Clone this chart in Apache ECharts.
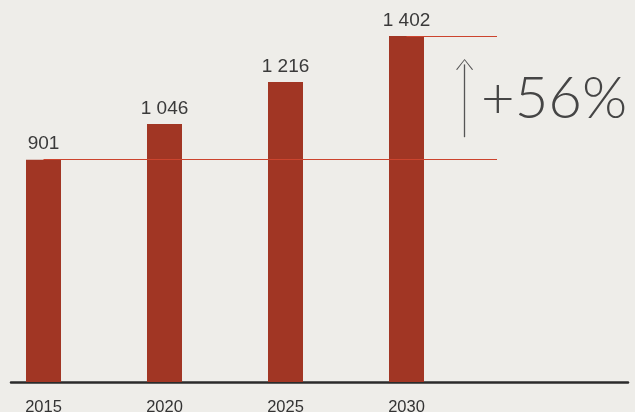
<!DOCTYPE html>
<html>
<head>
<meta charset="utf-8">
<script src="https://cdn.jsdelivr.net/npm/echarts@6/dist/echarts.min.js"></script>
<style>
html,body{margin:0;padding:0;background:#eeede9;}
#chart{width:635px;height:412px;}
</style>
</head>
<body>
<div id="chart"></div>
<script>
const years = [2015, 2020, 2025, 2030];
const values = [901, 1046, 1216, 1402];
const tickLabels = [2015, 2020, 2025, 2030];
const growthLabel = '+56%';

const chart = echarts.init(document.getElementById('chart'), null, {renderer: 'canvas'});
const fmt = v => String(v).replace(/\B(?=(\d{3})+(?!\d))/g, ' ');
const lineEnd = 2033.74;
const arrowX = 2032.4;

chart.setOption({
  backgroundColor: '#eeede9',
  animation: false,
  grid: {left: 11, right: 7, top: 0, bottom: 30, containLabel: false, outerBoundsMode: 'none'},
  xAxis: {
    type: 'value',
    min: 2013.657,
    max: 2039.153,
    splitLine: {show: false},
    axisTick: {show: false},
    axisLine: {show: true, onZero: false, lineStyle: {color: '#2b2b2b', width: 2.5}},
    axisLabel: {
      customValues: tickLabels,
      formatter: v => String(v),
      fontFamily: 'Liberation Sans',
      fontSize: 16.5,
      color: '#333',
      margin: 17
    }
  },
  yAxis: {type: 'value', min: 0, max: 1548, show: false},
  series: [
    {
      type: 'line',
      data: [],
      z: 1,
      markLine: {
        silent: true,
        symbol: 'none',
        label: {show: false},
        lineStyle: {color: '#cc442e', width: 1.2, type: 'solid'},
        data: [
          [{coord: [years[0], values[0]]}, {coord: [lineEnd, values[0]]}],
          [{coord: [years[3], values[3]]}, {coord: [lineEnd, values[3]]}]
        ]
      }
    },
    {
      type: 'line',
      data: [],
      z: 1,
      markLine: {
        silent: true,
        symbol: ['none', 'path://M0,10 L5,0 L10,10 L9.4,10.5 L5,1.4 L0.6,10.5 Z'],
        symbolSize: [17, 11],
        label: {show: false},
        lineStyle: {color: '#555', width: 1.3, type: 'solid'},
        data: [
          [{coord: [arrowX, 992]}, {coord: [arrowX, 1287]}]
        ]
      }
    },
    {
      type: 'bar',
      z: 2,
      barWidth: 35,
      itemStyle: {color: '#a13624'},
      label: {
        show: true,
        position: 'top',
        distance: 6,
        fontFamily: 'Liberation Sans',
        fontSize: 19,
        color: '#3a3a3a',
        formatter: p => fmt(p.value[1])
      },
      data: years.map((y, i) => [y, values[i]])
    }
  ],
  graphic: [{
    type: 'text',
    left: 481,
    top: 70,
    style: {
      text: growthLabel,
      fontFamily: 'Lato',
      fontWeight: 300,
      fontSize: 58,
      fill: '#454545'
    }
  }]
});
</script>
</body>
</html>
